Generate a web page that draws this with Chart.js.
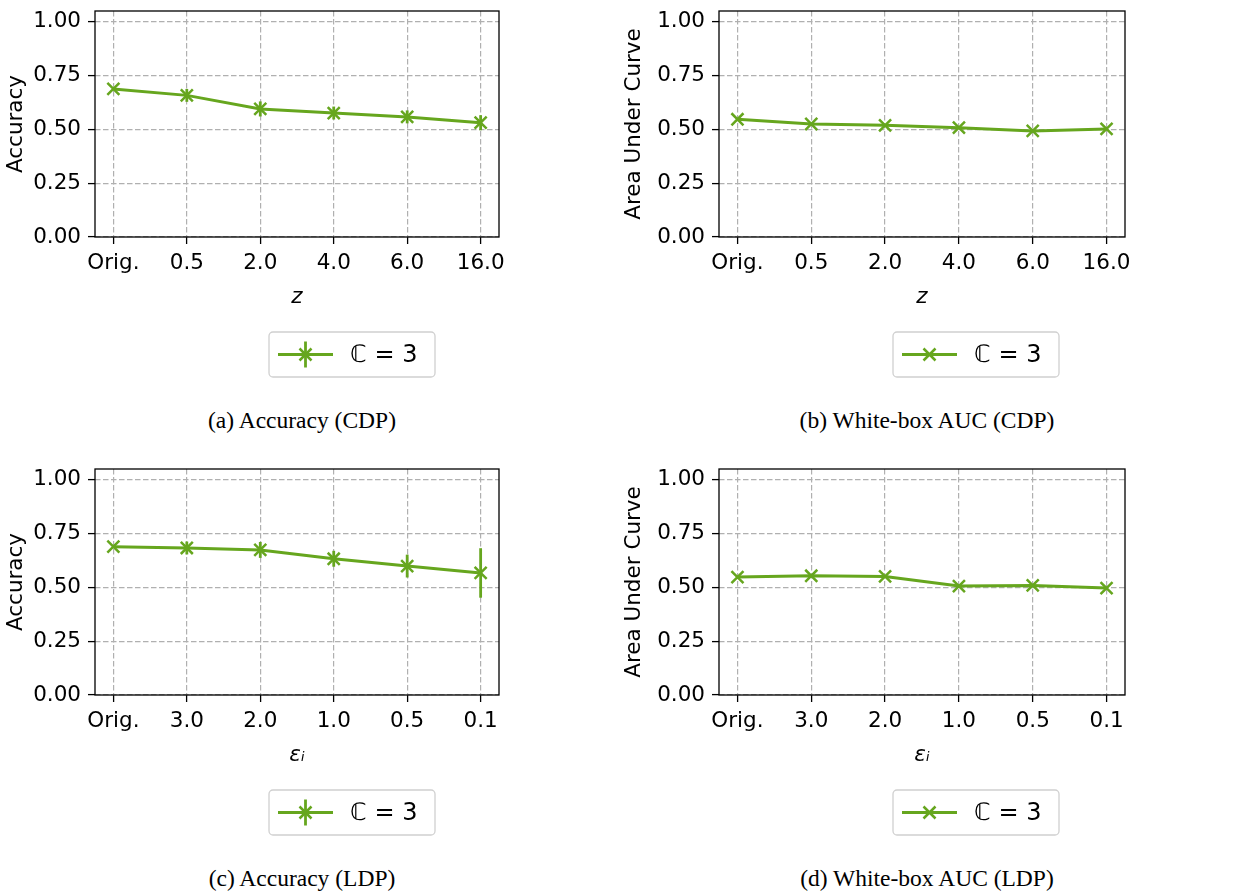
<!DOCTYPE html>
<html>
<head>
<meta charset="utf-8">
<script src="https://cdn.jsdelivr.net/npm/chart.js@4.4.0/dist/chart.umd.min.js"></script>
<style>
  body { margin: 0; background: #fff; width: 1237px; height: 894px; position: relative; overflow: hidden; }
  .panel { position: absolute; }
  .cap { position: absolute; width: 500px; text-align: center; font-family: "Liberation Serif", "Times New Roman", serif; font-size: 23.5px; line-height: 23.5px; color: #000; }
</style>
</head>
<body>
<canvas class="panel" id="chartA" width="618" height="390" style="left:0;top:0"></canvas>
<canvas class="panel" id="chartB" width="619" height="390" style="left:618px;top:0"></canvas>
<canvas class="panel" id="chartC" width="618" height="390" style="left:0;top:458px"></canvas>
<canvas class="panel" id="chartD" width="619" height="390" style="left:618px;top:458px"></canvas>
<div class="cap" style="left:52px;top:409px">(a) Accuracy (CDP)</div>
<div class="cap" style="left:677px;top:409px">(b) White-box AUC (CDP)</div>
<div class="cap" style="left:52px;top:867px">(c) Accuracy (LDP)</div>
<div class="cap" style="left:677px;top:867px">(d) White-box AUC (LDP)</div>
<script>
// x tick labels
const zLabels = ['Orig.', '0.5', '2.0', '4.0', '6.0', '16.0'];
const epsLabels = ['Orig.', '3.0', '2.0', '1.0', '0.5', '0.1'];

// values
const cdpAccuracy = [0.688, 0.658, 0.595, 0.576, 0.558, 0.531];
const cdpAccuracyErr = [0, 0.03, 0.035, 0.03, 0.03, 0.035];
const cdpAuc = [0.547, 0.525, 0.519, 0.508, 0.493, 0.502];
const ldpAccuracy = [0.689, 0.683, 0.674, 0.633, 0.599, 0.567];
const ldpAccuracyErr = [0, 0.03, 0.037, 0.037, 0.053, 0.115];
const ldpAuc = [0.548, 0.554, 0.551, 0.506, 0.509, 0.497];

const green = '#66a61e';
const seriesLabel = 'ℂ = 3';

Chart.defaults.font.family = '"DejaVu Sans"';
Chart.defaults.font.size = 21.5;
Chart.defaults.color = '#000';

function drawX(ctx, x, y, r) {
  ctx.beginPath();
  ctx.moveTo(x - r, y - r); ctx.lineTo(x + r, y + r);
  ctx.moveTo(x - r, y + r); ctx.lineTo(x + r, y - r);
  ctx.stroke();
}

// vertical error bars, drawn through the y scale
const errorBars = {
  id: 'errorBars',
  afterDatasetsDraw(chart) {
    const ds = chart.data.datasets[0];
    if (!ds.errors) return;
    const ctx = chart.ctx, y = chart.scales.y;
    const meta = chart.getDatasetMeta(0);
    ctx.save();
    ctx.strokeStyle = ds.borderColor;
    ctx.lineWidth = 2.8;
    meta.data.forEach((pt, i) => {
      const v = ds.data[i].y, e = ds.errors[i];
      if (!e) return;
      ctx.beginPath();
      ctx.moveTo(pt.x, y.getPixelForValue(v - e));
      ctx.lineTo(pt.x, y.getPixelForValue(v + e));
      ctx.stroke();
    });
    ctx.restore();
  }
};

// axes frame and the boxed legend under the plot
const frameLegend = {
  id: 'frameLegend',
  afterDraw(chart) {
    const ctx = chart.ctx, a = chart.chartArea;
    const ds = chart.data.datasets[0];
    ctx.save();
    ctx.strokeStyle = '#000';
    ctx.lineWidth = 1.3;
    ctx.strokeRect(a.left, a.top, a.right - a.left, a.bottom - a.top);

    const bx = a.left + 174, by = a.bottom + 95, bw = 166, bh = 45;
    ctx.beginPath();
    ctx.roundRect(bx, by, bw, bh, 4);
    ctx.fillStyle = 'rgba(255,255,255,0.8)';
    ctx.fill();
    ctx.strokeStyle = '#d0d0d0';
    ctx.lineWidth = 1.3;
    ctx.stroke();

    const ly = by + bh / 2;
    ctx.strokeStyle = ds.borderColor;
    ctx.lineWidth = 3;
    ctx.beginPath();
    ctx.moveTo(bx + 9, ly); ctx.lineTo(bx + 64, ly);
    ctx.stroke();
    ctx.lineWidth = 2.5;
    drawX(ctx, bx + 36.5, ly, 6);
    if (ds.errors) {
      ctx.lineWidth = 2.8;
      ctx.beginPath();
      ctx.moveTo(bx + 36.5, ly - 13); ctx.lineTo(bx + 36.5, ly + 13);
      ctx.stroke();
    }
    ctx.fillStyle = '#000';
    ctx.font = '24px "DejaVu Sans"';
    ctx.textBaseline = 'middle';
    ctx.fillText(ds.label, bx + 81, ly + 1);
    ctx.restore();
  }
};

function gridOpts() {
  return { color: '#b0b0b0', lineWidth: 1.2, tickLength: 7, tickColor: '#000', tickWidth: 1.3, tickBorderDash: [] };
}

function makeChart(id, labels, values, errors, xTitle, yTitle, leftW, padRight) {
  return new Chart(document.getElementById(id), {
    type: 'line',
    data: {
      datasets: [{
        label: seriesLabel,
        data: values.map((v, i) => ({ x: i, y: v })),
        errors: errors,
        borderColor: green,
        borderWidth: 3,
        tension: 0,
        fill: false,
        pointStyle: 'crossRot',
        pointRadius: 8.5,
        pointBorderWidth: 2.5,
        pointBorderColor: green,
        pointBackgroundColor: green
      }]
    },
    options: {
      responsive: false,
      animation: false,
      events: [],
      layout: { padding: { left: 0, right: padRight, top: 4, bottom: 73 } },
      plugins: { legend: { display: false }, tooltip: { enabled: false } },
      scales: {
        x: {
          type: 'linear', min: -0.25, max: 5.25,
          afterFit(s) { s.height = 80; s.paddingLeft = 0; s.paddingRight = 0; },
          ticks: {
            stepSize: 1, includeBounds: false, autoSkip: false, maxRotation: 0, padding: 7,
            callback: v => (Number.isInteger(v) && labels[v] !== undefined ? labels[v] : '')
          },
          grid: gridOpts(),
          border: { display: false, dash: [5.5, 2.5] },
          title: { display: true, text: xTitle, font: { style: 'italic', size: 21.5 }, padding: { top: 0, bottom: 7 } }
        },
        y: {
          min: 0, max: 1.05,
          afterFit(s) { s.width = leftW; s.paddingTop = 0; s.paddingBottom = 0; },
          ticks: { stepSize: 0.25, includeBounds: false, padding: 7, callback: v => v.toFixed(2) },
          grid: gridOpts(),
          border: { display: false, dash: [5.5, 2.5] },
          title: { display: true, text: yTitle, padding: { top: 4, bottom: 0 } }
        }
      }
    },
    plugins: [errorBars, frameLegend]
  });
}

makeChart('chartA', zLabels, cdpAccuracy, cdpAccuracyErr, 'z', 'Accuracy', 95, 119);
makeChart('chartB', zLabels, cdpAuc, null, 'z', 'Area Under Curve', 101, 112);
makeChart('chartC', epsLabels, ldpAccuracy, ldpAccuracyErr, 'εᵢ', 'Accuracy', 95, 119);
makeChart('chartD', epsLabels, ldpAuc, null, 'εᵢ', 'Area Under Curve', 101, 112);
</script>
</body>
</html>
